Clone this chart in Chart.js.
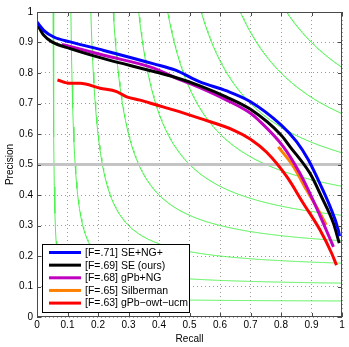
<!DOCTYPE html>
<html>
<head>
<meta charset="utf-8">
<script src="https://cdn.jsdelivr.net/npm/chart.js@4/dist/chart.umd.min.js"></script>
<style>
html, body { margin: 0; padding: 0; background: #fff; }
</style>
</head>
<body>
<canvas id="myChart" width="349" height="347"></canvas>
<script>
// series
var seriesLabels = ['[F=.71] SE+NG+', '[F=.69] SE (ours)', '[F=.68] gPb+NG', '[F=.65] Silberman', '[F=.63] gPb\u2212owt\u2212ucm'];
var seriesColors = ['#0000ff', '#000000', '#bf00bf', '#ff8000', '#ff0000'];

var seNgRecall    = [0, 0.022, 0.055, 0.109, 0.219, 0.383, 0.452, 0.534, 0.62, 0.70, 0.80, 0.851, 0.89, 0.917, 0.961, 0.988, 0.992];
var seNgPrecision = [0.967, 0.94, 0.918, 0.902, 0.874, 0.83, 0.81, 0.771, 0.742, 0.706, 0.630, 0.575, 0.515, 0.46, 0.362, 0.285, 0.265];

var seRecall    = [0, 0.022, 0.049, 0.109, 0.219, 0.383, 0.452, 0.534, 0.62, 0.70, 0.80, 0.83, 0.895, 0.933, 0.972, 0.991];
var sePrecision = [0.962, 0.924, 0.902, 0.88, 0.847, 0.805, 0.786, 0.758, 0.722, 0.681, 0.597, 0.558, 0.471, 0.394, 0.307, 0.242];

var gpbNgRecall    = [0.082, 0.219, 0.383, 0.452, 0.534, 0.62, 0.70, 0.726, 0.808, 0.862, 0.9, 0.939, 0.972];
var gpbNgPrecision = [0.894, 0.858, 0.816, 0.785, 0.752, 0.712, 0.668, 0.646, 0.558, 0.471, 0.394, 0.307, 0.23];

var silbermanRecall    = [0.791, 0.841, 0.884, 0.928, 0.948];
var silbermanPrecision = [0.558, 0.493, 0.416, 0.34, 0.302];

var ucmRecall    = [0.067, 0.108, 0.141, 0.207, 0.261, 0.294, 0.338, 0.392, 0.447, 0.534, 0.644, 0.70, 0.753, 0.819, 0.873, 0.928, 0.966, 0.982];
var ucmPrecision = [0.777, 0.766, 0.766, 0.75, 0.739, 0.722, 0.711, 0.695, 0.679, 0.651, 0.613, 0.583, 0.54, 0.46, 0.373, 0.285, 0.209, 0.17];

var isoFLevels = [0.1, 0.2, 0.3, 0.4, 0.5, 0.6, 0.7, 0.8, 0.9];
var halfLine = 0.5;
var tickValues = [0, 0.1, 0.2, 0.3, 0.4, 0.5, 0.6, 0.7, 0.8, 0.9, 1];
var tickLabels = ['0', '0.1', '0.2', '0.3', '0.4', '0.5', '0.6', '0.7', '0.8', '0.9', '1'];

var allRecall = [seNgRecall, seRecall, gpbNgRecall, silbermanRecall, ucmRecall];
var allPrecision = [seNgPrecision, sePrecision, gpbNgPrecision, silbermanPrecision, ucmPrecision];

function toPoints(xs, ys) {
    return xs.map(function (x, i) { return { x: x, y: ys[i] }; });
}

// iso-F contour: P = F*R / (2R - F)
function isoF(f) {
    var pts = [];
    var r0 = f / (2 - f);
    for (var r = r0; r <= 1.0001; r += 0.002) {
        pts.push({ x: r, y: f * r / (2 * r - f) });
    }
    return pts;
}

var datasets = [];
for (var i = 0; i < seriesLabels.length; i++) {
    datasets.push({
        label: seriesLabels[i],
        data: toPoints(allRecall[i], allPrecision[i]),
        borderColor: seriesColors[i],
        borderWidth: 3,
        cubicInterpolationMode: 'monotone',
        order: i
    });
}
datasets.push({
    data: [{ x: 0, y: halfLine }, { x: 1, y: halfLine }],
    borderColor: '#c4c4c4',
    borderWidth: 3,
    order: 20
});
isoFLevels.forEach(function (f) {
    datasets.push({
        data: isoF(f),
        borderColor: 'rgb(80,240,80)',
        borderWidth: 1,
        tension: 0,
        order: 30
    });
});

var fontFam = "'Liberation Sans', Arial, sans-serif";

var boxPlugin = {
    id: 'boxAndLegend',
    afterDraw: function (chart) {
        var c = chart.ctx, a = chart.chartArea;
        var xs = chart.scales.x, ys = chart.scales.y;
        c.save();
        c.setLineDash([]);
        c.strokeStyle = '#4a4a4a';
        c.lineWidth = 1;
        c.strokeRect(a.left + 0.5, a.top + 0.5, a.right - a.left - 1, a.bottom - a.top - 1);
        c.beginPath();
        tickValues.forEach(function (v) {
            var px = Math.round(xs.getPixelForValue(v)) + 0.5;
            c.moveTo(px, a.bottom); c.lineTo(px, a.bottom - 4);
            c.moveTo(px, a.top); c.lineTo(px, a.top + 4);
            var py = Math.round(ys.getPixelForValue(v)) + 0.5;
            c.moveTo(a.left, py); c.lineTo(a.left + 4, py);
            c.moveTo(a.right, py); c.lineTo(a.right - 4, py);
        });
        c.stroke();

        // legend
        var lx = a.left + 5, lw = 147, lh = 68;
        var ly = a.bottom - 5 - lh;
        c.fillStyle = '#fff';
        c.fillRect(lx, ly, lw, lh);
        c.strokeStyle = '#000';
        c.strokeRect(lx + 0.5, ly + 0.5, lw, lh);
        c.font = '10.5px ' + fontFam;
        c.textBaseline = 'middle';
        for (var k = 0; k < seriesLabels.length; k++) {
            var yy = ly + 8.5 + k * 12.65;
            c.strokeStyle = seriesColors[k];
            c.lineWidth = 3;
            c.beginPath();
            c.moveTo(lx + 7, yy); c.lineTo(lx + 39, yy);
            c.stroke();
            c.fillStyle = '#000';
            c.fillText(seriesLabels[k], lx + 43, yy + 0.5);
        }
        c.restore();
    }
};

var ctx = document.getElementById('myChart').getContext('2d');
var myChart = new Chart(ctx, {
    type: 'line',
    data: { datasets: datasets },
    options: {
        responsive: false,
        animation: false,
        devicePixelRatio: 1,
        layout: { padding: { top: 12, right: 7, left: 0, bottom: 0 } },
        elements: { point: { radius: 0 }, line: { fill: false } },
        plugins: { legend: { display: false }, tooltip: { enabled: false } },
        scales: {
            x: {
                type: 'linear', min: 0, max: 1,
                afterBuildTicks: function (s) { s.ticks = tickValues.map(function (v) { return { value: v }; }); },
                afterFit: function (s) { s.height = 30; },
                ticks: {
                    callback: function (v) { return tickLabels[Math.round(v * 10)]; },
                    maxRotation: 0, autoSkip: false, padding: 2,
                    color: '#000', font: { family: fontFam, size: 10 }
                },
                grid: { color: '#9a9a9a', drawTicks: false },
                border: { display: false, dash: [1, 3] },
                title: { display: true, text: 'Recall', color: '#000', font: { family: fontFam, size: 10 }, padding: { top: 4, bottom: 2 } }
            },
            y: {
                type: 'linear', min: 0, max: 1,
                afterBuildTicks: function (s) { s.ticks = tickValues.map(function (v) { return { value: v }; }); },
                afterFit: function (s) { s.width = 37; },
                ticks: {
                    callback: function (v) { return tickLabels[Math.round(v * 10)]; },
                    autoSkip: false, padding: 4,
                    color: '#000', font: { family: fontFam, size: 10 }
                },
                grid: { color: '#9a9a9a', drawTicks: false },
                border: { display: false, dash: [1, 3] },
                title: { display: true, text: 'Precision', color: '#000', font: { family: fontFam, size: 10 }, padding: { top: 4, bottom: 2 } }
            }
        }
    },
    plugins: [boxPlugin]
});
</script>
</body>
</html>
